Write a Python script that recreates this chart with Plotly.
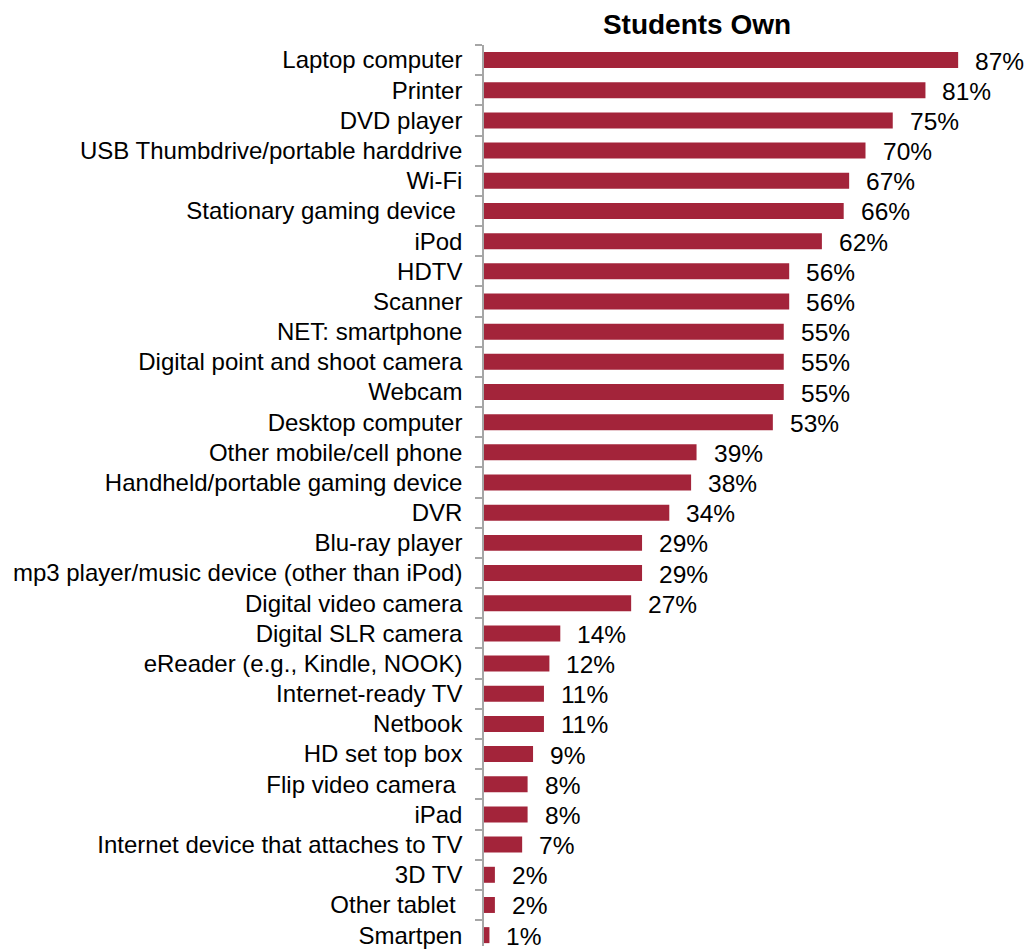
import plotly.graph_objects as go

# Share of students who own each device (%)
devices = [
    "Laptop computer",
    "Printer",
    "DVD player",
    "USB Thumbdrive/portable harddrive",
    "Wi-Fi",
    "Stationary gaming device\u00a0",
    "iPod",
    "HDTV",
    "Scanner",
    "NET: smartphone",
    "Digital point and shoot camera",
    "Webcam",
    "Desktop computer",
    "Other mobile/cell phone",
    "Handheld/portable gaming device",
    "DVR",
    "Blu-ray player",
    "mp3 player/music device (other than iPod)",
    "Digital video camera",
    "Digital SLR camera",
    "eReader (e.g., Kindle, NOOK)",
    "Internet-ready TV",
    "Netbook",
    "HD set top box",
    "Flip video camera\u00a0",
    "iPad",
    "Internet device that attaches to TV",
    "3D TV",
    "Other tablet\u00a0",
    "Smartpen",
]
own_pct = [87, 81, 75, 70, 67, 66, 62, 56, 56, 55, 55, 55, 53, 39, 38, 34,
           29, 29, 27, 14, 12, 11, 11, 9, 8, 8, 7, 2, 2, 1]

FONT = "Liberation Sans, Arial, sans-serif"
BAR_COLOR = "#A3243A"
AXIS_GRAY = "#A6A6A6"

fig = go.Figure(
    go.Bar(
        x=own_pct,
        y=devices,
        orientation="h",
        width=0.53,
        marker=dict(color=BAR_COLOR, line=dict(width=0)),
        hoverinfo="skip",
    )
)

# Percentage labels to the right of each bar
for name, v in zip(devices, own_pct):
    fig.add_annotation(
        x=v, y=name, text=f"{v}%", showarrow=False,
        xanchor="left", yanchor="middle", xshift=15, yshift=-1,
        font=dict(family=FONT, size=24.5, color="#000000"),
    )

fig.update_layout(
    width=1029,
    height=949,
    margin=dict(l=484, r=0, t=45, b=0),
    paper_bgcolor="white",
    plot_bgcolor="white",
    showlegend=False,
    title=dict(
        text="<b>Students Own</b>",
        x=697 / 1029, xanchor="center", xref="container",
        y=1 - 24 / 949, yanchor="middle", yref="container",
        font=dict(family=FONT, size=28, color="#000000"),
    ),
    xaxis=dict(
        range=[0, 100],
        showgrid=False, zeroline=False, showline=False,
        showticklabels=False, ticks="",
    ),
    yaxis=dict(
        type="category",
        categoryorder="array",
        categoryarray=devices,
        range=[29.36, -0.5],
        showgrid=False, zeroline=False,
        showline=True, linecolor=AXIS_GRAY, linewidth=1.5,
        ticks="outside", tickson="boundaries", ticklen=7,
        tickcolor=AXIS_GRAY, tickwidth=1.5,
        ticklabelstandoff=15,
        tickfont=dict(family=FONT, size=24, color="#000000"),
    ),
)

fig.write_html("out.html")
